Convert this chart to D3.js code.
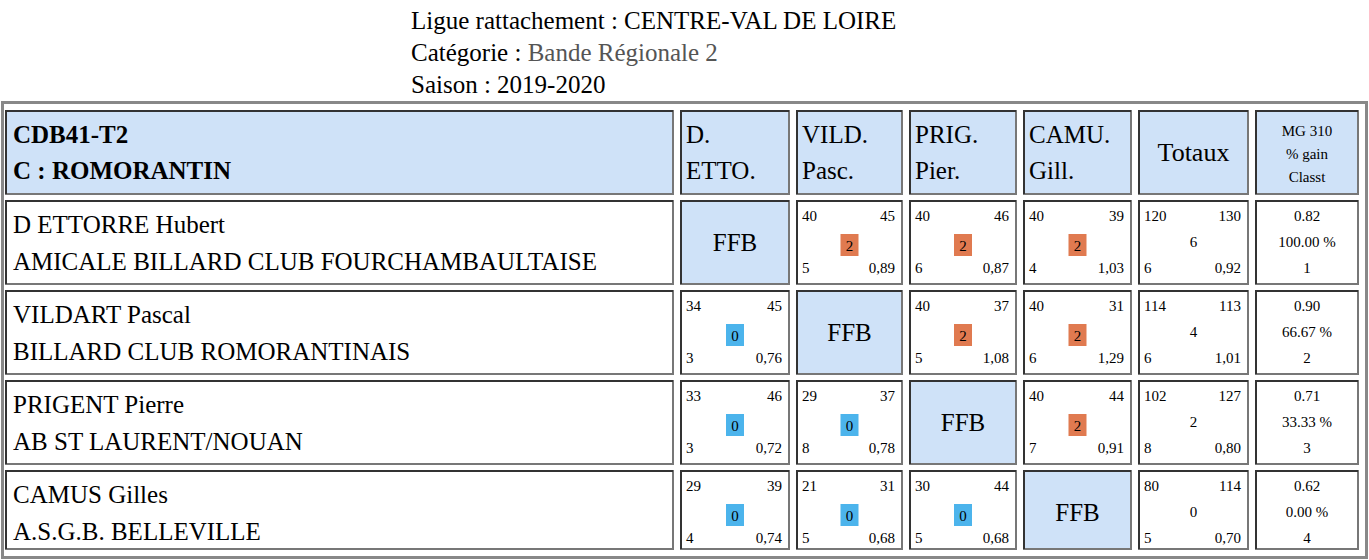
<!DOCTYPE html><html><head><meta charset="utf-8"><script src="https://cdn.jsdelivr.net/npm/d3@7"></script>
<style>body{margin:0;background:#fff} svg text{font-family:'Liberation Serif','Times New Roman',serif}</style></head><body><svg id="c" width="1369" height="560"></svg><script>
const players=["D ETTORRE Hubert","VILDART Pascal","PRIGENT Pierre","CAMUS Gilles"];
const clubs=["AMICALE BILLARD CLUB FOURCHAMBAULTAISE","BILLARD CLUB ROMORANTINAIS","AB ST LAURENT/NOUAN","A.S.G.B. BELLEVILLE"];
const colHeads=[["D.","ETTO."],["VILD.","Pasc."],["PRIG.","Pier."],["CAMU.","Gill."]];
// match cells per row: [points, reprises, score, serie, moyenne] ; null = FFB
const row1=[null,[40,45,2,5,"0,89"],[40,46,2,6,"0,87"],[40,39,2,4,"1,03"]];
const row2=[[34,45,0,3,"0,76"],null,[40,37,2,5,"1,08"],[40,31,2,6,"1,29"]];
const row3=[[33,46,0,3,"0,72"],[29,37,0,8,"0,78"],null,[40,44,2,7,"0,91"]];
const row4=[[29,39,0,4,"0,74"],[21,31,0,5,"0,68"],[30,44,0,5,"0,68"],null];
const totals=[[120,130,6,6,"0,92"],[114,113,4,6,"1,01"],[102,127,2,8,"0,80"],[80,114,0,5,"0,70"]];
const stats=[["0.82","100.00 %","1"],["0.90","66.67 %","2"],["0.71","33.33 %","3"],["0.62","0.00 %","4"]];
const matches=[row1,row2,row3,row4];
const svg=d3.select("#c");
const hdr=["Ligue rattachement : CENTRE-VAL DE LOIRE","Catégorie : ","Saison : 2019-2020"];
hdr.forEach((t,i)=>{const tx=svg.append("text").attr("x",411).attr("y",29+i*32).attr("font-size",25).text(t);
 if(i==1)tx.append("tspan").attr("fill","#555").text("Bande Régionale 2");});
svg.append("rect").attr("x",2.5).attr("y",102.5).attr("width",1364).attr("height",455).attr("fill","none").attr("stroke","#888").attr("stroke-width",3);
const colX=[5,680,796,909,1023,1138,1255,1365];
const rowY=[110,200,290,380,470,555];
const x=d3.scaleOrdinal().domain(d3.range(8)).range(colX);
const y=d3.scaleOrdinal().domain(d3.range(6)).range(rowY);
function cell(ci,ri,fill){const x0=x(ci),y0=y(ri),w=x(ci+1)-x0-6,h=y(ri+1)-y0-5;
 const g=svg.append("g").attr("transform",`translate(${x0},${y0})`);
 g.append("rect").attr("x",1).attr("y",1).attr("width",w-2).attr("height",h-2).attr("fill",fill).attr("stroke","#777").attr("stroke-width",2);
 g.append("path").attr("d",`M1,${h-1}V1H${w-1}`).attr("fill","none").attr("stroke","#333").attr("stroke-width",2);
 g.w=w;g.h=h;return g;}
function txt(g,xx,yy,t,s,a,b){return g.append("text").attr("x",xx).attr("y",yy).attr("font-size",s).attr("text-anchor",a||"start").attr("font-weight",b?"bold":null).text(t);}
const HB="#cfe2f8";
let g=cell(0,0,HB);txt(g,8,33,"CDB41-T2",25,"start",1);txt(g,8,69,"C : ROMORANTIN",25,"start",1);
colHeads.forEach((h,i)=>{const g=cell(i+1,0,HB);txt(g,6,33,h[0],25);txt(g,6,69,h[1],25);});
g=cell(5,0,HB);txt(g,g.w/2,51,"Totaux",26,"middle");
g=cell(6,0,HB);["MG 310","% gain","Classt"].forEach((t,i)=>txt(g,g.w/2,26+i*23,t,15,"middle"));
function scoreCell(g,d){txt(g,6,21,d[0],15);txt(g,g.w-8,21,d[1],15,"end");
 txt(g,6,73,d[3],15);txt(g,g.w-8,73,d[4],15,"end");}
players.forEach((p,r)=>{let g=cell(0,r+1,"#fff");txt(g,8,33,p,25);txt(g,8,70,clubs[r],25);
 matches[r].forEach((d,c)=>{const g=cell(c+1,r+1,d?"#fff":HB);
  if(!d){txt(g,g.w/2,51,"FFB",25,"middle");return;}
  scoreCell(g,d);const bx=g.w/2-9;g.append("rect").attr("x",bx).attr("y",34).attr("width",18).attr("height",22).attr("fill",d[2]>0?"#e07a50":"#4cb4ec");
  txt(g,g.w/2,51,d[2],15,"middle");});
 const t=totals[r];g=cell(5,r+1,"#fff");scoreCell(g,t);txt(g,g.w/2,47,t[2],15,"middle");
 g=cell(6,r+1,"#fff");stats[r].forEach((s,i)=>txt(g,g.w/2,21+i*26,s,15,"middle"));
});
</script></body></html>
